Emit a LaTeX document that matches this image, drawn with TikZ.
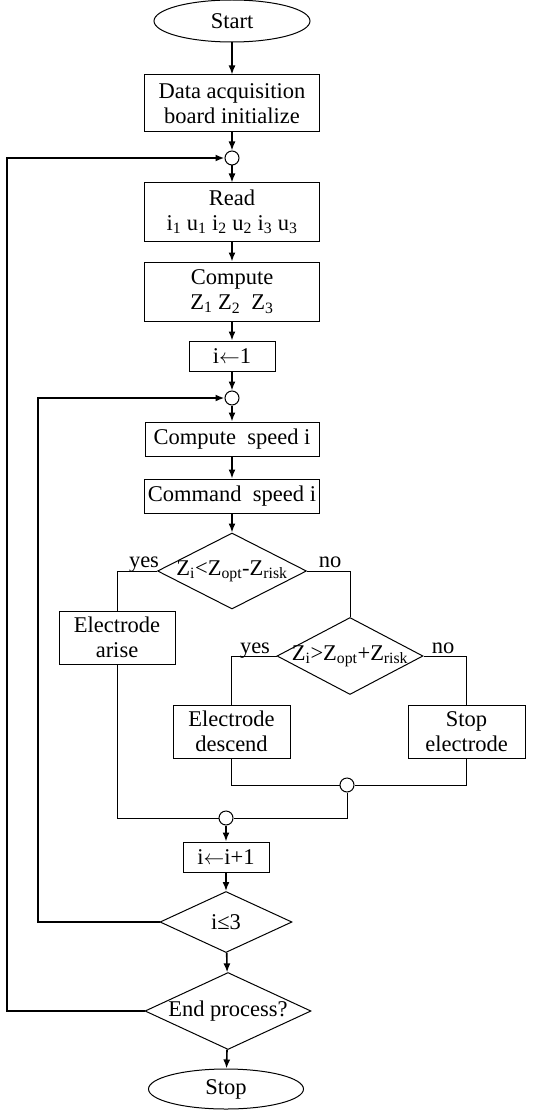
\documentclass[tikz,border=0pt]{standalone}
\usepackage{fontspec}
\setmainfont{Liberation Serif}
\usetikzlibrary{shapes.geometric,arrows.meta}

\begin{document}
\begin{tikzpicture}[x=1pt,y=-1pt,
    font=\fontsize{22.5}{25}\selectfont,
    box/.style={draw,line width=1pt,rectangle,inner sep=0pt,align=center},
    term/.style={draw,line width=1pt,ellipse,inner sep=0pt,minimum width=156,minimum height=42},
    decide/.style={draw,line width=1pt,diamond,inner sep=0pt},
    joint/.style={draw,line width=1pt,circle,fill=white,inner sep=0pt,minimum size=14},
    flow/.style={line width=1.6pt,-{Latex[length=9pt,width=7pt]}},
    back/.style={line width=2pt,-{Latex[length=9pt,width=7pt]}},
    link/.style={line width=1pt}]
      \useasboundingbox (0,0) rectangle (536,1110);
      \node[term] (start) at (232,21) {Start};
      \node[box,minimum width=175,minimum height=57] (init) at (232,103.5) {Data acquisition\\board initialize};
      \node[joint] (j1) at (232,158) {};
      \node[box,minimum width=175,minimum height=58] (read) at (232,212)
          {Read\\i\textsubscript{1} u\textsubscript{1} i\textsubscript{2} u\textsubscript{2} i\textsubscript{3} u\textsubscript{3}};
      \node[box,minimum width=175,minimum height=59] (comp) at (232,291.5)
          {Compute\\Z\textsubscript{1} Z\textsubscript{2}\ \ Z\textsubscript{3}};
      \node[box,minimum width=86,minimum height=30] (first) at (232,356) {i$\leftarrow$1};
      \node[joint] (j2) at (232,398) {};
      \node[box,minimum width=174,minimum height=34] (speed) at (232,439) {Compute\ \ speed i};
      \node[box,minimum width=175,minimum height=34] (cmd) at (232,496) {Command\ \ speed i};
      \node[decide,minimum width=149,minimum height=76,
          label={center:Z\textsubscript{i}<Z\textsubscript{opt}-Z\textsubscript{risk}}] (d1) at (232,571) {};
      \node[box,minimum width=116,minimum height=53] (arise) at (117,637.5) {Electrode\\arise};
      \node[decide,minimum width=146,minimum height=77,
          label={center:Z\textsubscript{i}>Z\textsubscript{opt}+Z\textsubscript{risk}}] (d2) at (350,656) {};
      \node[box,minimum width=117,minimum height=53] (descend) at (231.5,731.5) {Electrode\\descend};
      \node[box,minimum width=117,minimum height=53] (halt) at (466.5,731.5) {Stop\\electrode};
      \node[joint] (j3) at (347,785) {};
      \node[joint] (j4) at (226,818) {};
      \node[box,minimum width=86,minimum height=30] (next) at (226,857) {i$\leftarrow$i+1};
      \node[decide,minimum width=132,minimum height=61,label={center:i≤3}] (d3) at (226,922) {};
      \node[decide,minimum width=166,minimum height=77,label={center:End process?}] (d4) at (228,1011) {};
      \node[term,minimum width=155,minimum height=40] (stop) at (226,1089) {Stop};
      \node[anchor=base] (yes1) at (144,567) {yes};
      \node[anchor=base] (no1) at (330,567) {no};
      \node[anchor=base] (yes2) at (255,653) {yes};
      \node[anchor=base] (no2) at (443,653) {no};
      \foreach \a/\b in {start/init,init/j1,j1/read,read/comp,comp/first,first/j2,j2/speed,speed/cmd,cmd/d1,j4/next,next/d3,d3/d4,d4/stop}{
      \draw[flow] (\a) -- (\b);
      }
      \draw[link] (d1.west) -| (arise.north);
      \draw[link] (d1.east) -| (d2.north);
      \draw[link] (d2.west) -| (descend.north);
      \draw[link] (d2.east) -| (halt.north);
      \draw[link] (descend.south) |- (j3.west);
      \draw[link] (halt.south) |- (j3.east);
      \draw[link] (j3.south) |- (j4.east);
      \draw[link] (arise.south) |- (j4.west);
      \draw[back] (d3.west) -- ++(-122,0) |- (j2.west);
      \draw[back] (d4.west) -- ++(-138,0) |- (j1.west);
  \end{tikzpicture}
\end{document}
